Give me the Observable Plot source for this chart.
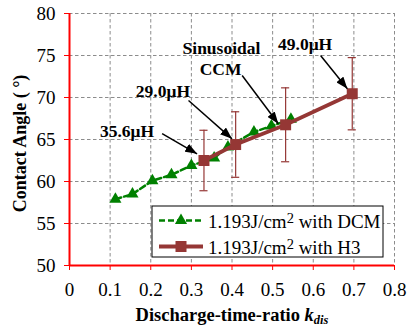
<!DOCTYPE html>
<html><head><meta charset="utf-8">
<script src="https://cdn.jsdelivr.net/npm/d3@7"></script>
<script src="https://cdn.jsdelivr.net/npm/@observablehq/plot@0.6"></script>
<style>
body{margin:0;background:#fff}
#chart{position:relative;width:407px;height:326px}
</style>
</head><body><div id="chart"></div>
<script>
// Series 1: 1.193J/cm2 with DCM
const dcmK = [0.113, 0.155, 0.204, 0.251, 0.300, 0.356, 0.390, 0.454, 0.497, 0.545];
const dcmV = [57.9, 58.5, 60.1, 60.8, 61.9, 62.8, 64.1, 65.9, 66.6, 67.4];
// Series 2: 1.193J/cm2 with H3 (with error bars)
const h3K = [0.331, 0.409, 0.532, 0.696];
const h3V = [62.5, 64.4, 66.75, 70.45];
const h3Err = [3.6, 3.9, 4.4, 4.3];
// Axis ticks
const xTicks = [0, 0.1, 0.2, 0.3, 0.4, 0.5, 0.6, 0.7, 0.8];
const yTicks = [50, 55, 60, 65, 70, 75, 80];
// Annotations
const noteText = ["35.6μH", "29.0μH", "Sinusoidal", "CCM", "49.0μH"];
const noteX = [0.1415, 0.230, 0.374, 0.372, 0.580];
const noteY = [66.0, 70.71, 75.83, 73.33, 76.31];
const arrowX1 = [0.228, 0.293, 0.425, 0.618];
const arrowY1 = [65.71, 69.64, 72.62, 75.0];
const arrowX2 = [0.314, 0.400, 0.514, 0.684];
const arrowY2 = [63.3, 65.08, 66.87, 71.04];
// Legend
const legendBase = ["1.193J/cm", "1.193J/cm"];
const legendSup = ["2", "2"];
const legendRest = [" with DCM", " with H3"];

const GREEN = "#008000", BROWN = "#953735", RED = "#ff0000";
const FONT = "'Liberation Serif','Times New Roman',serif";

const dcm = dcmK.map((k, i) => ({k, v: dcmV[i]}));
const h3 = h3K.map((k, i) => ({k, v: h3V[i], e: h3Err[i]}));
const notes = noteText.map((t, i) => ({t, x: noteX[i], y: noteY[i]}));
const arrows = arrowX1.map((x1, i) => ({x1, y1: arrowY1[i], x2: arrowX2[i], y2: arrowY2[i]}));

const plot = Plot.plot({
  width: 407, height: 326,
  marginLeft: 69, marginRight: 13, marginTop: 13, marginBottom: 61,
  style: {fontFamily: FONT, fontSize: "19px", color: "#000", background: "#fff"},
  x: {domain: [0, 0.8]},
  y: {domain: [50, 80]},
  marks: [
    Plot.ruleX(xTicks.filter(d => d > 0), {stroke: "#8c8c8c", strokeDasharray: "3.5,2.5", strokeWidth: 1}),
    Plot.ruleY(yTicks.filter(d => d > 50), {stroke: "#8c8c8c", strokeDasharray: "3.5,2.5", strokeWidth: 1}),
    Plot.axisX(xTicks, {tickSize: 5, tickPadding: 12, stroke: RED, fill: "#000", fontSize: 19, label: null,
      fontFamily: FONT, tickFormat: d => d === 0 ? "0" : String(d)}),
    Plot.axisY(yTicks, {tickSize: 5, tickPadding: 9, stroke: RED, fill: "#000", fontSize: 19, label: null,
      fontFamily: FONT, tickFormat: d => String(d)}),
    Plot.ruleX([0], {stroke: RED, strokeWidth: 2}),
    Plot.ruleY([50], {stroke: RED, strokeWidth: 2}),
    // DCM series
    Plot.line(dcm, {x: "k", y: "v", stroke: GREEN, strokeWidth: 2.5, strokeDasharray: "6,3"}),
    Plot.dot(dcm, {x: "k", y: "v", symbol: "triangle", r: 4.5, fill: GREEN, stroke: "none"}),
    // H3 series with error bars
    Plot.ruleX(h3, {x: "k", y1: d => d.v - d.e, y2: d => d.v + d.e, stroke: BROWN, strokeWidth: 1.2}),
    Plot.ruleY(h3, {y: d => d.v + d.e, x1: d => d.k - 0.01, x2: d => d.k + 0.01, stroke: BROWN, strokeWidth: 1.2}),
    Plot.ruleY(h3, {y: d => d.v - d.e, x1: d => d.k - 0.01, x2: d => d.k + 0.01, stroke: BROWN, strokeWidth: 1.2}),
    Plot.line(h3, {x: "k", y: "v", stroke: BROWN, strokeWidth: 3.8}),
    Plot.dot(h3, {x: "k", y: "v", symbol: "square", r: 6.2, fill: BROWN, stroke: "none"}),
    // annotations
    Plot.link(arrows, {x1: "x1", y1: "y1", x2: "x2", y2: "y2", stroke: "#000", strokeWidth: 1.5}),
    Plot.text(notes, {x: "x", y: "y", text: "t", fontWeight: "bold", fontSize: 17.5, fill: "#000", fontFamily: FONT})
  ]
});

const svg = d3.select(plot);
// arrow heads
const defs = svg.append("defs");
defs.append("marker").attr("id", "ah").attr("viewBox", "0 0 12 9")
  .attr("refX", 12).attr("refY", 4.5).attr("markerWidth", 12).attr("markerHeight", 9)
  .attr("markerUnits", "userSpaceOnUse").attr("orient", "auto")
  .append("path").attr("d", "M0,0L12,4.5L0,9Z").attr("fill", "#000");
svg.selectAll('g[aria-label="link"] path').attr("marker-end", "url(#ah)");

// axis titles
svg.append("text").attr("transform", "translate(26,143.5) rotate(-90)")
  .attr("text-anchor", "middle").attr("font-weight", "bold").attr("font-size", 18)
  .attr("font-family", FONT).attr("fill", "#000").text("Contact Angle ( °)");
const xl = svg.append("text").attr("x", 232).attr("y", 321)
  .attr("text-anchor", "middle").attr("font-weight", "bold").attr("font-size", 18.5)
  .attr("font-family", FONT).attr("fill", "#000");
xl.append("tspan").text("Discharge-time-ratio ");
xl.append("tspan").attr("font-style", "italic").text("k");
xl.append("tspan").attr("font-style", "italic").attr("font-size", 12.5).attr("dy", 3).text("dis");

// legend
const lg = svg.append("g");
lg.append("rect").attr("x", 152).attr("y", 206).attr("width", 231).attr("height", 51)
  .attr("fill", "#fff").attr("stroke", "#000").attr("stroke-width", 1);
const rowsY = [220.5, 246.5];
[0, 1].forEach(i => {
  const y = rowsY[i];
  if (i === 0) {
    lg.append("line").attr("x1", 159).attr("x2", 203).attr("y1", y).attr("y2", y)
      .attr("stroke", GREEN).attr("stroke-width", 2.5).attr("stroke-dasharray", "6,3");
    lg.append("path").attr("transform", `translate(181,${y})`)
      .attr("d", d3.symbol(d3.symbolTriangle, Math.PI * 4.5 * 4.5)()).attr("fill", GREEN);
  } else {
    lg.append("line").attr("x1", 159).attr("x2", 203).attr("y1", y).attr("y2", y)
      .attr("stroke", BROWN).attr("stroke-width", 3.8);
    lg.append("rect").attr("x", 175.5).attr("y", y - 5.5).attr("width", 11).attr("height", 11).attr("fill", BROWN);
  }
  const t = lg.append("text").attr("x", 208).attr("y", y + 7).attr("font-size", 19)
    .attr("text-anchor", "start").attr("font-family", FONT).attr("fill", "#000");
  t.append("tspan").text(legendBase[i]);
  t.append("tspan").attr("font-size", 14.5).attr("dy", -4.5).text(legendSup[i]);
  t.append("tspan").attr("dy", 4.5).text(legendRest[i]);
});

document.getElementById("chart").appendChild(plot);
</script>
</body></html>
